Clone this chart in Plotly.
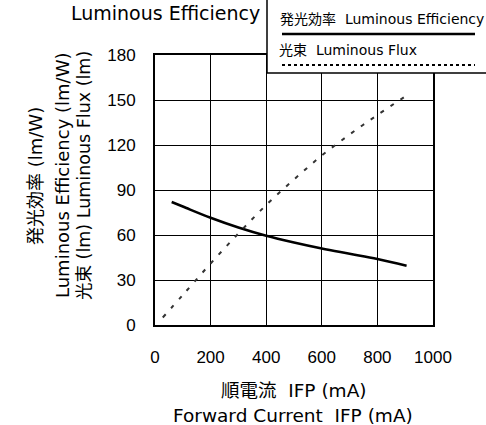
import plotly.graph_objects as go

current_eff = [60, 100, 200, 300, 400, 500, 600, 700, 800, 905]
efficiency = [82, 79, 71.5, 65, 59.5, 55, 51, 47.5, 44, 39.5]
current_flux = [28, 100, 200, 300, 400, 500, 600, 700, 800, 905]
flux = [5, 20, 41, 61, 80, 97, 113, 127, 140, 153]
x_ticks = [0, 200, 400, 600, 800, 1000]
y_ticks = [0, 30, 60, 90, 120, 150, 180]

TICKFONT = "Liberation Sans, Arial, sans-serif"
TEXTFONT = "DejaVu Sans, Noto Sans CJK JP, sans-serif"

fig = go.Figure()
fig.add_trace(go.Scatter(x=current_eff, y=efficiency, mode="lines",
                         line=dict(color="black", width=2.5, shape="spline"),
                         showlegend=False))
fig.add_trace(go.Scatter(x=current_flux, y=flux, mode="lines",
                         line=dict(color="#333333", width=2, dash="4px,8px", shape="spline"),
                         showlegend=False))

L, R, T, B = 155, 53, 55, 100
W, H = 486, 425
pw, ph = W - L - R, H - T - B

def px(x):
    return (x - L) / pw

def py(y):
    return (H - B - y) / ph

def txt(text, x, y, size, xanchor="center", angle=0):
    return dict(text=text, xref="paper", yref="paper", x=px(x), y=py(y),
                showarrow=False, font=dict(size=size, family=TEXTFONT),
                xanchor=xanchor, yanchor="middle", textangle=angle)

fig.update_layout(
    width=W, height=H,
    margin=dict(l=L, r=R, t=T, b=B),
    paper_bgcolor="white", plot_bgcolor="white",
    font=dict(family=TEXTFONT, size=16, color="black"),
    xaxis=dict(range=[0, 1000], tickvals=x_ticks, ticktext=[str(v) for v in x_ticks],
               showgrid=True, gridcolor="black", gridwidth=1,
               showline=True, linecolor="black", linewidth=2, mirror=True,
               ticks="", ticklabelstandoff=16, zeroline=False,
               tickfont=dict(size=17, family=TICKFONT)),
    yaxis=dict(range=[0, 180], tickvals=y_ticks, ticktext=[str(v) for v in y_ticks],
               showgrid=True, gridcolor="black", gridwidth=1,
               showline=True, linecolor="black", linewidth=2, mirror=True,
               ticks="", ticklabelstandoff=14, zeroline=False,
               tickfont=dict(size=17, family=TICKFONT)),
    shapes=[
        dict(type="rect", xref="paper", yref="paper",
             x0=px(267), x1=px(492), y0=py(73), y1=py(-3),
             line=dict(color="black", width=1.5), fillcolor="white", layer="above"),
        dict(type="line", xref="paper", yref="paper",
             x0=px(282), x1=px(475), y0=py(34), y1=py(34),
             line=dict(color="black", width=2.5)),
        dict(type="line", xref="paper", yref="paper",
             x0=px(282), x1=px(475), y0=py(65), y1=py(65),
             line=dict(color="black", width=2, dash="dot")),
    ],
    annotations=[
        txt("Luminous Efficiency", 165, 13, 19),
        txt("発光効率  Luminous Efficiency", 278, 19, 14, xanchor="left"),
        txt("光束  Luminous Flux", 277, 50, 14, xanchor="left"),
        txt("順電流  IFP (mA)", 294, 390, 18.5),
        txt("Forward Current  IFP (mA)", 293, 415, 18.5),
        txt("発光効率 (lm/W)", 35, 176, 18, angle=-90),
        txt("Luminous Efficiency (lm/W)", 62, 176, 18, angle=-90),
        txt("光束 (lm) Luminous Flux (lm)", 84, 176, 17.5, angle=-90),
    ],
)

fig.write_html("out.html", config={"displayModeBar": False},
               post_script="document.body.style.margin='0';document.body.style.overflow='hidden';")
